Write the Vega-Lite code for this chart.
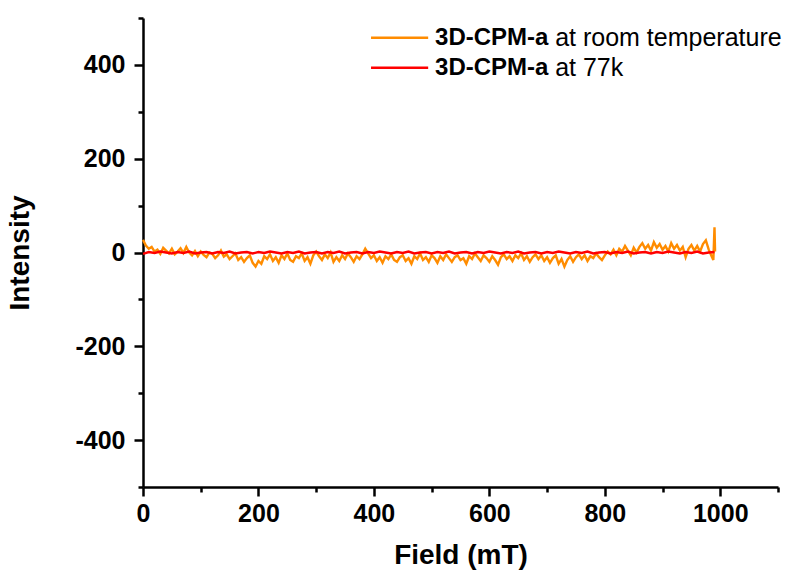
{
  "$schema": "https://vega.github.io/schema/vega-lite/v6.json",
  "width": 635,
  "height": 469,
  "autosize": "none",
  "padding": {"left": 143, "top": 18, "right": 10, "bottom": 87},
  "background": "white",
  "config": {
    "view": {"stroke": null},
    "font": "Liberation Sans",
    "axis": {
      "grid": false,
      "domainColor": "black",
      "domainWidth": 2.5,
      "tickColor": "black",
      "tickWidth": 2.5,
      "labelFont": "Liberation Sans",
      "labelFontSize": 25,
      "labelFontWeight": "bold",
      "labelColor": "black",
      "labelFlush": false,
      "labelOverlap": false,
      "labelExpr": "toString(datum.value)",
      "titleFont": "Liberation Sans",
      "titleFontSize": 28,
      "titleFontWeight": "bold",
      "titleColor": "black"
    }
  },
  "datasets": {
    "room": [
      {"field": 0, "v": 27}, {"field": 5, "v": 15}, {"field": 10, "v": 8}, {"field": 15, "v": 12}, {"field": 20, "v": 2}, {"field": 25, "v": 6}, {"field": 30, "v": -3}, {"field": 35, "v": 10}, {"field": 40, "v": 4}, {"field": 45, "v": -2},
      {"field": 50, "v": 8}, {"field": 55, "v": -4}, {"field": 60, "v": 2}, {"field": 65, "v": 9}, {"field": 70, "v": -1}, {"field": 75, "v": 12}, {"field": 80, "v": 0}, {"field": 85, "v": -6}, {"field": 90, "v": 3}, {"field": 95, "v": -8},
      {"field": 100, "v": 2}, {"field": 105, "v": -5}, {"field": 110, "v": -10}, {"field": 115, "v": 0}, {"field": 120, "v": -3}, {"field": 125, "v": -12}, {"field": 130, "v": -6}, {"field": 135, "v": 4}, {"field": 140, "v": -9}, {"field": 145, "v": -4},
      {"field": 150, "v": -14}, {"field": 155, "v": -8}, {"field": 160, "v": -2}, {"field": 165, "v": -16}, {"field": 170, "v": -10}, {"field": 175, "v": -20}, {"field": 180, "v": -12}, {"field": 185, "v": -6}, {"field": 190, "v": -22}, {"field": 195, "v": -30},
      {"field": 200, "v": -18}, {"field": 205, "v": -24}, {"field": 210, "v": -8}, {"field": 215, "v": -14}, {"field": 220, "v": -4}, {"field": 225, "v": -18}, {"field": 230, "v": -10}, {"field": 235, "v": -22}, {"field": 240, "v": -6}, {"field": 245, "v": -14},
      {"field": 250, "v": -2}, {"field": 255, "v": -16}, {"field": 260, "v": -20}, {"field": 265, "v": -8}, {"field": 270, "v": -12}, {"field": 275, "v": -2}, {"field": 280, "v": -18}, {"field": 285, "v": -10}, {"field": 290, "v": -24}, {"field": 295, "v": -6},
      {"field": 300, "v": 2}, {"field": 305, "v": -8}, {"field": 310, "v": -16}, {"field": 315, "v": -4}, {"field": 320, "v": -12}, {"field": 325, "v": 0}, {"field": 330, "v": -20}, {"field": 335, "v": -10}, {"field": 340, "v": -18}, {"field": 345, "v": -6},
      {"field": 350, "v": -14}, {"field": 355, "v": -2}, {"field": 360, "v": -10}, {"field": 365, "v": -20}, {"field": 370, "v": -8}, {"field": 375, "v": -14}, {"field": 380, "v": -4}, {"field": 385, "v": 8}, {"field": 390, "v": -2}, {"field": 395, "v": -12},
      {"field": 400, "v": -6}, {"field": 405, "v": -18}, {"field": 410, "v": -10}, {"field": 415, "v": -22}, {"field": 420, "v": -8}, {"field": 425, "v": -14}, {"field": 430, "v": -4}, {"field": 435, "v": -16}, {"field": 440, "v": -20}, {"field": 445, "v": -10},
      {"field": 450, "v": -6}, {"field": 455, "v": -18}, {"field": 460, "v": -12}, {"field": 465, "v": -24}, {"field": 470, "v": -8}, {"field": 475, "v": -14}, {"field": 480, "v": -2}, {"field": 485, "v": -16}, {"field": 490, "v": -10}, {"field": 495, "v": -20},
      {"field": 500, "v": -6}, {"field": 505, "v": -12}, {"field": 510, "v": -22}, {"field": 515, "v": -8}, {"field": 520, "v": -16}, {"field": 525, "v": -4}, {"field": 530, "v": -12}, {"field": 535, "v": -20}, {"field": 540, "v": -10}, {"field": 545, "v": -6},
      {"field": 550, "v": -16}, {"field": 555, "v": -12}, {"field": 560, "v": -24}, {"field": 565, "v": -8}, {"field": 570, "v": -14}, {"field": 575, "v": -2}, {"field": 580, "v": -10}, {"field": 585, "v": -18}, {"field": 590, "v": -6}, {"field": 595, "v": -12},
      {"field": 600, "v": -20}, {"field": 605, "v": -8}, {"field": 610, "v": -16}, {"field": 615, "v": -26}, {"field": 620, "v": -10}, {"field": 625, "v": -4}, {"field": 630, "v": -14}, {"field": 635, "v": -8}, {"field": 640, "v": -18}, {"field": 645, "v": -6},
      {"field": 650, "v": -12}, {"field": 655, "v": -2}, {"field": 660, "v": -16}, {"field": 665, "v": -8}, {"field": 670, "v": -20}, {"field": 675, "v": -10}, {"field": 680, "v": -4}, {"field": 685, "v": -14}, {"field": 690, "v": -6}, {"field": 695, "v": -18},
      {"field": 700, "v": -10}, {"field": 705, "v": -22}, {"field": 710, "v": -12}, {"field": 715, "v": -6}, {"field": 720, "v": -24}, {"field": 725, "v": -14}, {"field": 730, "v": -30}, {"field": 735, "v": -16}, {"field": 740, "v": -8}, {"field": 745, "v": -20},
      {"field": 750, "v": -10}, {"field": 755, "v": -4}, {"field": 760, "v": -14}, {"field": 765, "v": -6}, {"field": 770, "v": -18}, {"field": 775, "v": -8}, {"field": 780, "v": -12}, {"field": 785, "v": -2}, {"field": 790, "v": -10}, {"field": 795, "v": -16},
      {"field": 800, "v": -6}, {"field": 805, "v": 2}, {"field": 810, "v": -4}, {"field": 815, "v": 6}, {"field": 820, "v": -6}, {"field": 825, "v": 8}, {"field": 830, "v": 2}, {"field": 835, "v": 14}, {"field": 840, "v": 4}, {"field": 845, "v": -6},
      {"field": 850, "v": 10}, {"field": 855, "v": 0}, {"field": 860, "v": 12}, {"field": 865, "v": 20}, {"field": 870, "v": 8}, {"field": 875, "v": 16}, {"field": 880, "v": 4}, {"field": 885, "v": 22}, {"field": 890, "v": 10}, {"field": 895, "v": 18},
      {"field": 900, "v": 6}, {"field": 905, "v": 14}, {"field": 910, "v": 2}, {"field": 915, "v": 20}, {"field": 920, "v": 8}, {"field": 925, "v": 16}, {"field": 930, "v": 4}, {"field": 935, "v": 12}, {"field": 940, "v": -10}, {"field": 945, "v": 8},
      {"field": 950, "v": 16}, {"field": 955, "v": 4}, {"field": 960, "v": 14}, {"field": 965, "v": 2}, {"field": 970, "v": 18}, {"field": 975, "v": 26}, {"field": 980, "v": 6}, {"field": 985, "v": -8}, {"field": 988, "v": -16}, {"field": 990, "v": 54},
      {"field": 991, "v": 2}
    ],
    "k77": [
      {"field": 0, "v": -3}, {"field": 10, "v": 1}, {"field": 20, "v": -1}, {"field": 30, "v": 2}, {"field": 40, "v": 0}, {"field": 50, "v": -2}, {"field": 60, "v": 1}, {"field": 70, "v": -1}, {"field": 80, "v": 2}, {"field": 90, "v": -2},
      {"field": 100, "v": 0}, {"field": 110, "v": 1}, {"field": 120, "v": -2}, {"field": 130, "v": 1}, {"field": 140, "v": -1}, {"field": 150, "v": 2}, {"field": 160, "v": -2}, {"field": 170, "v": 0}, {"field": 180, "v": 1}, {"field": 190, "v": -2},
      {"field": 200, "v": 1}, {"field": 210, "v": -1}, {"field": 220, "v": 2}, {"field": 230, "v": 0}, {"field": 240, "v": -2}, {"field": 250, "v": 1}, {"field": 260, "v": -1}, {"field": 270, "v": 2}, {"field": 280, "v": -2}, {"field": 290, "v": 0},
      {"field": 300, "v": 1}, {"field": 310, "v": -2}, {"field": 320, "v": 1}, {"field": 330, "v": -1}, {"field": 340, "v": 2}, {"field": 350, "v": -2}, {"field": 360, "v": 0}, {"field": 370, "v": 1}, {"field": 380, "v": -2}, {"field": 390, "v": 1},
      {"field": 400, "v": -1}, {"field": 410, "v": 2}, {"field": 420, "v": 0}, {"field": 430, "v": -2}, {"field": 440, "v": 1}, {"field": 450, "v": -1}, {"field": 460, "v": 2}, {"field": 470, "v": -2}, {"field": 480, "v": 0}, {"field": 490, "v": 1},
      {"field": 500, "v": -2}, {"field": 510, "v": 1}, {"field": 520, "v": -1}, {"field": 530, "v": 2}, {"field": 540, "v": -2}, {"field": 550, "v": 0}, {"field": 560, "v": 1}, {"field": 570, "v": -2}, {"field": 580, "v": 1}, {"field": 590, "v": -1},
      {"field": 600, "v": 2}, {"field": 610, "v": 0}, {"field": 620, "v": -2}, {"field": 630, "v": 1}, {"field": 640, "v": -1}, {"field": 650, "v": 2}, {"field": 660, "v": -2}, {"field": 670, "v": 0}, {"field": 680, "v": 1}, {"field": 690, "v": -2},
      {"field": 700, "v": 1}, {"field": 710, "v": -1}, {"field": 720, "v": 2}, {"field": 730, "v": 0}, {"field": 740, "v": -2}, {"field": 750, "v": 1}, {"field": 760, "v": -1}, {"field": 770, "v": 2}, {"field": 780, "v": -2}, {"field": 790, "v": 0},
      {"field": 800, "v": 1}, {"field": 810, "v": -2}, {"field": 820, "v": 1}, {"field": 830, "v": -1}, {"field": 840, "v": 2}, {"field": 850, "v": -2}, {"field": 860, "v": 0}, {"field": 870, "v": 1}, {"field": 880, "v": -2}, {"field": 890, "v": 1},
      {"field": 900, "v": -1}, {"field": 910, "v": 2}, {"field": 920, "v": 0}, {"field": 930, "v": -2}, {"field": 940, "v": 1}, {"field": 950, "v": -1}, {"field": 960, "v": 2}, {"field": 970, "v": -2}, {"field": 980, "v": 0}, {"field": 990, "v": 1}
    ],
    "legend": [
      {"series": "room", "x1": 395, "x2": 494, "y": 458, "tx": 506, "dx": 714, "name": "3D-CPM-a", "desc": "at room temperature"},
      {"series": "77k", "x1": 395, "x2": 494, "y": 394, "tx": 506, "dx": 714, "name": "3D-CPM-a", "desc": "at 77k"}
    ]
  },
  "layer": [
    {
      "data": {"name": "room"},
      "mark": {"type": "line", "strokeWidth": 2.4, "color": "#FF8C00"},
      "encoding": {
        "x": {"field": "field", "type": "quantitative", "scale": {"domain": [0, 1100], "nice": false, "zero": false},
          "axis": {"orient": "bottom", "values": [0, 200, 400, 600, 800, 1000], "tickSize": 9, "labelPadding": 5, "title": "Field (mT)", "titlePadding": 15}},
        "y": {"field": "v", "type": "quantitative", "scale": {"domain": [-500, 500], "nice": false, "zero": false},
          "axis": {"orient": "left", "values": [-400, -200, 0, 200, 400], "tickSize": 9, "labelPadding": 9, "title": "Intensity", "titlePadding": 40}}
      }
    },
    {
      "data": {"name": "k77"},
      "mark": {"type": "line", "strokeWidth": 2.4, "color": "#FF0000"},
      "encoding": {
        "x": {"field": "field", "type": "quantitative", "scale": {"domain": [0, 1100], "nice": false, "zero": false},
          "axis": {"orient": "bottom", "values": [100, 300, 500, 700, 900, 1100], "tickSize": 5, "labels": false, "domain": false, "title": null}},
        "y": {"field": "v", "type": "quantitative", "scale": {"domain": [-500, 500], "nice": false, "zero": false},
          "axis": {"orient": "left", "values": [-500, -300, -100, 100, 300, 500], "tickSize": 5, "labels": false, "domain": false, "title": null}}
      }
    },
    {
      "data": {"name": "legend"},
      "mark": {"type": "rule", "strokeWidth": 2.4},
      "encoding": {
        "x": {"field": "x1", "type": "quantitative", "axis": null, "scale": {"domain": [0, 1100], "nice": false, "zero": false}},
        "x2": {"field": "x2"},
        "y": {"field": "y", "type": "quantitative", "axis": null, "scale": {"domain": [-500, 500], "nice": false, "zero": false}},
        "color": {"field": "series", "type": "nominal", "scale": {"domain": ["room", "77k"], "range": ["#FF8C00", "#FF0000"]}, "legend": null}
      }
    },
    {
      "data": {"name": "legend"},
      "mark": {"type": "text", "align": "left", "baseline": "middle", "fontWeight": "bold", "fontSize": 24, "font": "Liberation Sans", "color": "black"},
      "encoding": {
        "x": {"field": "tx", "type": "quantitative", "axis": null, "scale": {"domain": [0, 1100], "nice": false, "zero": false}},
        "y": {"field": "y", "type": "quantitative", "axis": null, "scale": {"domain": [-500, 500], "nice": false, "zero": false}},
        "text": {"field": "name"}
      }
    },
    {
      "data": {"name": "legend"},
      "mark": {"type": "text", "align": "left", "baseline": "middle", "fontSize": 25, "font": "Liberation Sans", "color": "black"},
      "encoding": {
        "x": {"field": "dx", "type": "quantitative", "axis": null, "scale": {"domain": [0, 1100], "nice": false, "zero": false}},
        "y": {"field": "y", "type": "quantitative", "axis": null, "scale": {"domain": [-500, 500], "nice": false, "zero": false}},
        "text": {"field": "desc"}
      }
    }
  ],
  "resolve": {"axis": {"x": "independent", "y": "independent"}}
}
